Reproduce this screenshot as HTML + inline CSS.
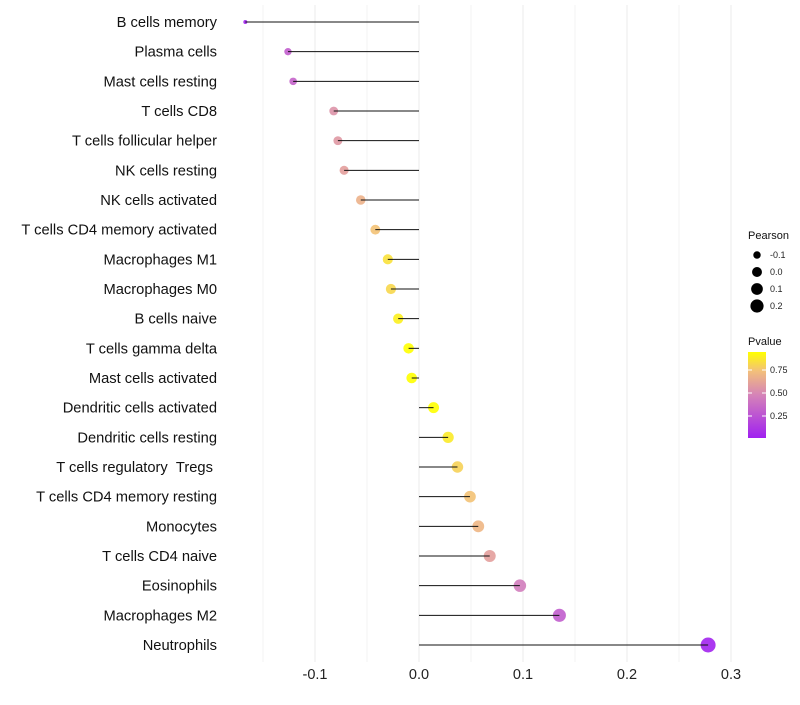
<!DOCTYPE html>
<html><head><meta charset="utf-8"><style>
body{margin:0;background:#fff;font-family:"Liberation Sans",sans-serif;}
</style></head><body>
<svg id="chart" width="800" height="700" xmlns="http://www.w3.org/2000/svg">
<defs><linearGradient id="pg" x1="0" y1="1" x2="0" y2="0">
<stop offset="0" stop-color="#a020f0"/><stop offset="0.5" stop-color="#d583b8"/><stop offset="0.78" stop-color="#f3c07a"/><stop offset="1" stop-color="#ffff00"/></linearGradient></defs>
<g id="grid"></g><g id="pts"></g><g id="marks"></g><g id="labels"></g><g id="legend"></g>
</svg>
<script>
const cells=["B cells memory","Plasma cells","Mast cells resting","T cells CD8","T cells follicular helper","NK cells resting","NK cells activated","T cells CD4 memory activated","Macrophages M1","Macrophages M0","B cells naive","T cells gamma delta","Mast cells activated","Dendritic cells activated","Dendritic cells resting","T cells regulatory\u00a0\u00a0Tregs\u00a0","T cells CD4 memory resting","Monocytes","T cells CD4 naive","Eosinophils","Macrophages M2","Neutrophils"];
const pearson=[-0.167,-0.126,-0.121,-0.082,-0.078,-0.072,-0.056,-0.042,-0.030,-0.027,-0.020,-0.010,-0.007,0.014,0.028,0.037,0.049,0.057,0.068,0.097,0.135,0.278];
const pvalue=[0.02,0.3,0.33,0.55,0.57,0.6,0.68,0.75,0.85,0.82,0.9,0.95,0.97,0.95,0.88,0.8,0.75,0.7,0.6,0.45,0.3,0.03];
const xticks=[-0.1,0.0,0.1,0.2,0.3];
const xtickLabels=["-0.1","0.0","0.1","0.2","0.3"];
const NS="http://www.w3.org/2000/svg";
const X=v=>419+v*1040;
const Y=i=>22+i*(623/21);
const R=v=>2+5.5*Math.sqrt(Math.max(0,(v+0.167)/0.445));
function lerp(a,b,t){return a.map((x,i)=>Math.round(x+(b[i]-x)*t));}
function col(p){const s=[[0,[160,32,240]],[0.5,[213,131,184]],[0.78,[243,192,122]],[1,[255,255,0]]];
 p=Math.min(1,Math.max(0,(p-0.01)/0.94));
 for(let k=1;k<s.length;k++){if(p<=s[k][0]){const t=(p-s[k-1][0])/(s[k][0]-s[k-1][0]);const c=lerp(s[k-1][1],s[k][1],t);return `rgb(${c})`;}}return "rgb(255,255,0)";}
function el(t,a,parent){const e=document.createElementNS(NS,t);for(const k in a)e.setAttribute(k,a[k]);parent.appendChild(e);return e;}
const grid=document.getElementById('grid'),marks=document.getElementById('marks'),pts=document.getElementById('pts'),labels=document.getElementById('labels'),legend=document.getElementById('legend');
for(let k=-3;k<=6;k++){const v=k*0.05;const g=el('line',{x1:X(v),x2:X(v),y1:5,y2:662,stroke:'#ebebeb','stroke-width':k%2?0.6:1},grid);

}
xticks.forEach((v,i)=>{const t=el('text',{x:X(v),y:679,'text-anchor':'middle','font-size':14.5,fill:'#222'},labels);t.textContent=xtickLabels[i];

});
cells.forEach((c,i)=>{
 const t=el('text',{x:217,y:Y(i)+5,'text-anchor':'end','font-size':14.7,fill:'#111'},labels);t.textContent=c;
 
 
 const p=el('circle',{cx:X(pearson[i]),cy:Y(i),r:R(pearson[i]),fill:col(pvalue[i]),'fill-opacity':0.9},pts);
 
 
 const l=el('line',{x1:X(0),x2:X(pearson[i]),y1:Y(i),y2:Y(i),stroke:'#111','stroke-width':1},marks);
 
 
});
const lt=el('text',{x:748,y:239,'font-size':11,fill:'#111'},legend);lt.textContent='Pearson';


[-0.1,0,0.1,0.2].forEach((v,i)=>{const yy=255+i*17;
 const c=el('circle',{cx:757,cy:yy,r:R(v)-0.4,fill:'#000'},legend);
 
 
 const t=el('text',{x:770,y:yy+3,'font-size':9,fill:'#222'},legend);t.textContent=v===0?'0.0':String(v);
 
 });
const pt=el('text',{x:748,y:345,'font-size':11,fill:'#111'},legend);pt.textContent='Pvalue';


const bar=el('rect',{x:748,y:352,width:18,height:86,fill:'url(#pg)'},legend);


[[0.75,370],[0.50,393],[0.25,416]].forEach(([v,yy])=>{
 const t=el('text',{x:770,y:yy+3,'font-size':9,fill:'#222'},legend);t.textContent=v.toFixed(2);
 
 
 el('line',{x1:748,x2:752,y1:yy,y2:yy,stroke:'#fff'},legend);el('line',{x1:762,x2:766,y1:yy,y2:yy,stroke:'#fff'},legend);});
</script>
</body></html>
